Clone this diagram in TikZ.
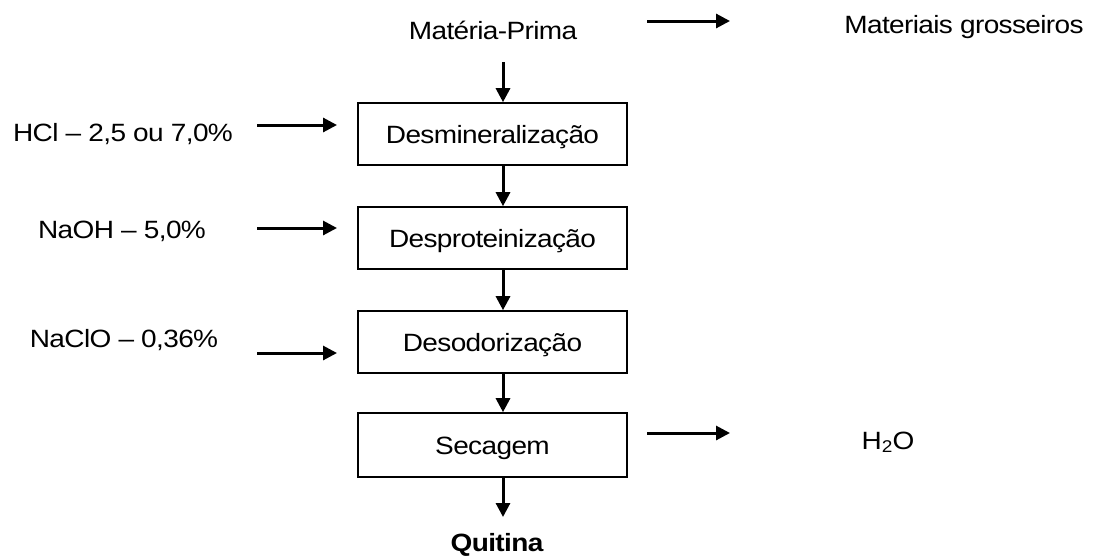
\documentclass[tikz,border=0pt]{standalone}
\usepackage{fontspec}
\setmainfont{Liberation Sans}[FakeStretch=1.12,LetterSpace=-2.5]
\usetikzlibrary{arrows.meta}
\begin{document}
\begin{tikzpicture}[x=1pt,y=-1pt,
  txt/.style={font=\fontsize{25}{29}\selectfont, inner sep=0pt, text height=18pt, text depth=0pt},
  stepbox/.style={txt, draw, line width=1.6pt, minimum width=269pt, minimum height=62pt},
  arr/.style={line width=3pt, -{Triangle[length=14pt,width=14pt]}}]
\useasboundingbox (0,0) rectangle (1098,558);
% texts
\node[txt] (mp) at (493,30) {Matéria-Prima};
\node[txt] (mg) at (964,24) {Materiais grosseiros};
\node[txt] (hcl) at (123,132) {HCl -- 2,5 ou 7,0\%};
\node[txt] (naoh) at (122,229) {NaOH -- 5,0\%};
\node[txt] (naclo) at (124,338) {NaClO -- 0,36\%};
\node[txt] (h2o) at (888,440) {H\raisebox{-0.3ex}{\fontsize{17}{19}\selectfont 2}O};
\node[txt, font=\fontsize{25}{29}\selectfont\bfseries] (qui) at (497,542) {Quitina};
% boxes
\node[stepbox] (b1) at (492.5,134) {Desmineralização};
\node[stepbox] (b2) at (492.5,238) {Desproteinização};
\node[stepbox] (b3) at (492.5,342) {Desodorização};
\node[stepbox, minimum height=64pt] (b4) at (492.5,445) {Secagem};
% coordinates
\coordinate (v0) at (503,62);
\coordinate (v5) at (503,517);
\coordinate (t1) at (647,21);
\coordinate (t2) at (730,21);
\coordinate (r1) at (647,433);
\coordinate (r2) at (730,433);
\coordinate (l1a) at (257,125);
\coordinate (l1b) at (337,125);
\coordinate (l2a) at (257,228);
\coordinate (l2b) at (337,228);
\coordinate (l3a) at (257,353);
\coordinate (l3b) at (337,353);
% arrows
\draw[arr] (v0) -- (v0 |- b1.north);
\draw[arr] (v0 |- b1.south) -- (v0 |- b2.north);
\draw[arr] (v0 |- b2.south) -- (v0 |- b3.north);
\draw[arr] (v0 |- b3.south) -- (v0 |- b4.north);
\draw[arr] (v0 |- b4.south) -- (v5);
\draw[arr] (t1) -- (t2);
\draw[arr] (r1) -- (r2);
\draw[arr] (l1a) -- (l1b);
\draw[arr] (l2a) -- (l2b);
\draw[arr] (l3a) -- (l3b);
\end{tikzpicture}
\end{document}
